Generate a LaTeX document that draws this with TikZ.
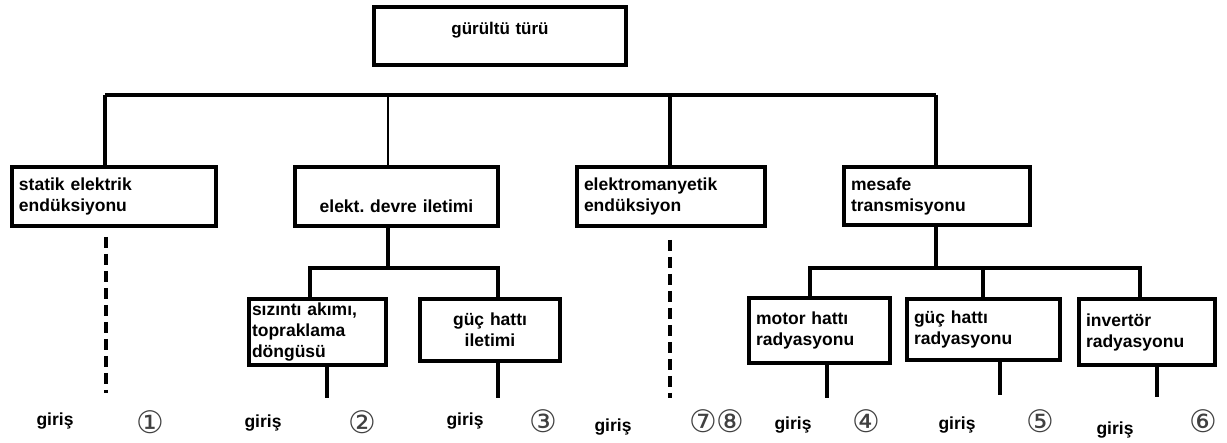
\documentclass[tikz,border=0pt]{standalone}
\usepackage{fontspec}
\setmainfont{Liberation Sans}
\newfontfamily\circfont{DejaVu Sans}
\usetikzlibrary{positioning}

\begin{document}
\begin{tikzpicture}[
    x=1pt, y=-1pt,
    box/.style={rectangle, draw=black, line width=3.5pt, outer sep=0pt,
                anchor=north west, align=left, inner xsep=7pt, inner ysep=2pt,
                font=\fontsize{17.5}{21}\selectfont\bfseries},
    link/.style={draw=black, line width=3.5pt},
    thinlink/.style={draw=black, line width=2pt},
    dashlink/.style={draw=black, line width=3.5pt, dash pattern=on 11pt off 6pt},
    entry/.style={font=\fontsize{17.5}{21}\selectfont\bfseries, inner sep=0pt},
    num/.style={font=\circfont\fontsize{31}{31}\selectfont, text=black!75, inner sep=0pt}
]

    \useasboundingbox (0,0) rectangle (1227,443);

    % root
    \node[box, align=center, text width=238pt, minimum height=58pt,
          font=\fontsize{17}{20}\selectfont\bfseries] (root) at (374,7)
        {\raisebox{1pt}[0pt][0pt]{gürültü türü}};

    % first level
    \node[box, text width=190pt, minimum height=59pt] (statik) at (12,167)
        {statik elektrik\\endüksiyonu};
    \node[box, align=center, text width=189pt, minimum height=59pt] (elekt) at (295,167)
        {\raisebox{-16pt}[0pt][0pt]{elekt.\ devre iletimi}};
    \node[box, text width=174pt, minimum height=59pt] (emk) at (577,167)
        {elektromanyetik\\endüksiyon};
    \node[box, text width=172pt, minimum height=58pt] (mesafe) at (844,167)
        {mesafe\\transmisyonu};

    % second level
    \node[box, inner xsep=3pt, text width=131pt, minimum height=66pt] (sizinti) at (249,299)
        {sızıntı akımı,\\topraklama\\döngüsü};
    \node[box, align=center, text width=126pt, minimum height=62pt] (guciletim) at (420,299)
        {güç hattı\\iletimi};
    \node[box, text width=127pt, minimum height=65pt] (motor) at (749,298)
        {motor hattı\\radyasyonu};
    \node[box, text width=139pt, minimum height=61pt] (gucrad) at (907,299)
        {güç hattı\\radyasyonu};
    \node[box, text width=122pt, minimum height=66pt] (invertor) at (1079,299)
        {invertör\\radyasyonu};

    % main bar
    \coordinate (b1) at (105,95);
    \coordinate (b2) at (388,95);
    \coordinate (b3) at (670,95);
    \coordinate (b4) at (936,95);
    \draw[link] (b1) -- (b4);
    \draw[link] (b1) -- (b1 |- statik.north);
    \draw[thinlink] (b2) -- (b2 |- elekt.north);
    \draw[link] (b3) -- (b3 |- emk.north);
    \draw[link] (b4) -- (b4 |- mesafe.north);

    % elekt. devre branch
    \coordinate (e0) at (388,268);
    \coordinate (e1) at (310,268);
    \coordinate (e2) at (498,268);
    \draw[link] (e0 |- elekt.south) -- (e0);
    \draw[link] (e1 |- sizinti.north) -- (e1) -- (e2) -- (e2 |- guciletim.north);

    % mesafe branch
    \coordinate (m0) at (936,268);
    \coordinate (m1) at (810,268);
    \coordinate (m2) at (983,268);
    \coordinate (m3) at (1140,268);
    \draw[link] (m0 |- mesafe.south) -- (m0);
    \draw[link] (m1 |- motor.north) -- (m1) -- (m3) -- (m3 |- invertor.north);
    \draw[link] (m2) -- (m2 |- gucrad.north);

    % legs down to the inputs
    \coordinate (o1) at (106,393);
    \coordinate (o2) at (327,398);
    \coordinate (o3) at (498,398);
    \coordinate (o7) at (670,398);
    \coordinate (o4) at (827,398);
    \coordinate (o5) at (1000,395);
    \coordinate (o6) at (1157,397);
    \draw[dashlink] (o1 |- statik.south) ++(0,11) -- (o1);
    \draw[link] (o2 |- sizinti.south) -- (o2);
    \draw[link] (o3 |- guciletim.south) -- (o3);
    \draw[dashlink] (o7 |- emk.south) ++(0,14) -- (o7);
    \draw[link] (o4 |- motor.south) -- (o4);
    \draw[link] (o5 |- gucrad.south) -- (o5);
    \draw[link] (o6 |- invertor.south) -- (o6);

    % inputs
    \node[entry] (g1) at (55,421) {giriş};
    \node[entry] (g2) at (263,423) {giriş};
    \node[entry] (g3) at (465,421) {giriş};
    \node[entry] (g7) at (613,427) {giriş};
    \node[entry] (g4) at (793,425) {giriş};
    \node[entry] (g5) at (957,425) {giriş};
    \node[entry] (g6) at (1115,430) {giriş};

    \node[num] (n1) at (150,422) {①};
    \node[num] (n2) at (362,422) {②};
    \node[num] (n3) at (543,421) {③};
    \node[num] (n7) at (717,421) {⑦⑧};
    \node[num] (n4) at (866,421) {④};
    \node[num] (n5) at (1040,421) {⑤};
    \node[num] (n6) at (1203,421) {⑥};

\end{tikzpicture}
\end{document}
